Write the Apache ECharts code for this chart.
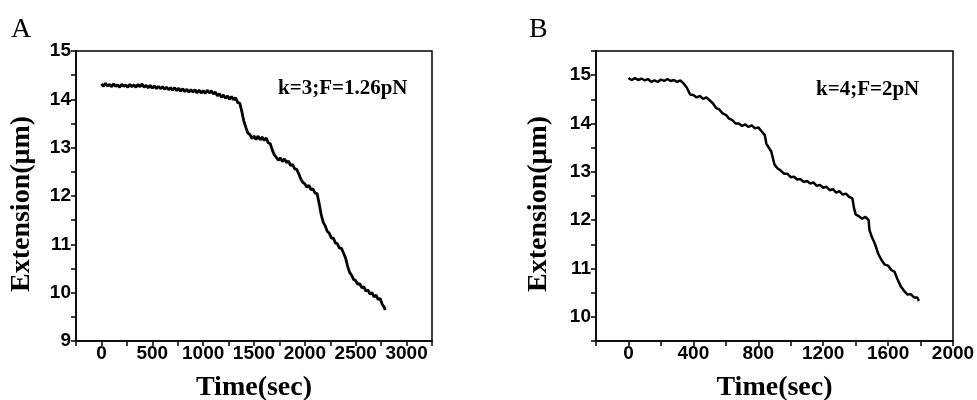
<!DOCTYPE html>
<html>
<head>
<meta charset="utf-8">
<script src="https://cdn.jsdelivr.net/npm/echarts@6/dist/echarts.min.js"></script>
<style>html,body{margin:0;padding:0;background:#fff;}#c{width:977px;height:400px;}</style>
</head>
<body>
<div id="c"></div>
<script>
// Panel A: time (sec) and extension (µm)
const timeA = [0,20,40,60,80,100,120,140,160,180,200,220,240,260,280,300,320,340,360,380,400,420,440,460,480,500,520,540,560,580,600,620,640,660,680,700,720,740,760,780,800,820,840,860,880,900,920,940,960,980,1000,1020,1040,1060,1080,1100,1120,1140,1160,1180,1200,1220,1240,1260,1280,1300,1320,1340,1360,1380,1400,1420,1440,1460,1480,1500,1520,1540,1560,1580,1600,1620,1640,1660,1680,1700,1720,1740,1760,1780,1800,1820,1840,1860,1880,1900,1920,1940,1960,1980,2000,2020,2040,2060,2080,2100,2120,2140,2160,2180,2200,2220,2240,2260,2280,2300,2320,2340,2360,2380,2400,2420,2440,2460,2480,2500,2520,2540,2560,2580,2600,2620,2640,2660,2680,2700,2720,2740,2760,2780,2790];
const extA = [14.32,14.27,14.33,14.28,14.31,14.26,14.32,14.27,14.30,14.25,14.31,14.27,14.30,14.25,14.31,14.26,14.30,14.25,14.31,14.26,14.32,14.25,14.29,14.24,14.29,14.23,14.28,14.22,14.27,14.22,14.26,14.21,14.25,14.20,14.24,14.19,14.24,14.18,14.23,14.17,14.22,14.16,14.21,14.15,14.20,14.15,14.20,14.13,14.19,14.13,14.18,14.12,14.19,14.13,14.18,14.11,14.15,14.07,14.12,14.04,14.09,14.02,14.07,14.00,14.06,13.99,14.03,13.93,13.92,13.75,13.55,13.42,13.30,13.27,13.19,13.24,13.17,13.24,13.16,13.22,13.15,13.20,13.10,13.08,12.95,12.85,12.80,12.74,12.79,12.71,12.77,12.69,12.72,12.63,12.65,12.56,12.55,12.46,12.35,12.28,12.25,12.18,12.22,12.13,12.15,12.06,12.05,11.85,11.62,11.46,11.38,11.27,11.23,11.13,11.13,11.03,11.01,10.92,10.92,10.82,10.72,10.55,10.42,10.36,10.27,10.25,10.17,10.19,10.10,10.12,10.03,10.06,9.97,10.00,9.91,9.95,9.86,9.88,9.76,9.70,9.64];

// Panel B
const timeB = [0,20,40,60,80,100,120,140,160,180,200,220,240,260,280,300,320,340,360,380,400,420,440,460,480,500,520,540,560,580,600,620,640,660,680,700,720,740,760,780,800,820,840,850,860,880,900,920,940,960,980,1000,1020,1040,1060,1080,1100,1120,1140,1160,1180,1200,1220,1240,1260,1280,1300,1320,1340,1360,1380,1390,1400,1420,1440,1460,1480,1485,1500,1520,1540,1560,1580,1600,1620,1640,1660,1680,1700,1720,1740,1760,1780,1790];
const extB = [14.94,14.90,14.94,14.90,14.93,14.89,14.92,14.86,14.89,14.86,14.91,14.88,14.92,14.88,14.90,14.86,14.89,14.83,14.74,14.60,14.59,14.54,14.57,14.51,14.54,14.48,14.42,14.32,14.29,14.21,14.18,14.10,14.07,14.00,14.00,13.95,13.98,13.93,13.96,13.90,13.92,13.84,13.76,13.58,13.55,13.42,13.15,13.07,13.02,12.96,12.96,12.89,12.90,12.84,12.85,12.79,12.81,12.76,12.78,12.71,12.73,12.67,12.69,12.62,12.64,12.57,12.60,12.53,12.55,12.48,12.45,12.25,12.12,12.08,12.03,12.07,12.00,11.80,11.65,11.50,11.30,11.17,11.08,11.06,10.97,10.93,10.76,10.62,10.53,10.46,10.47,10.40,10.40,10.33];

const panelLetters = ['A', 'B'];
const noteA = 'k=3;F=1.26pN';
const noteB = 'k=4;F=2pN';
const xTitle = 'Time(sec)';
const yTitle = 'Extension(μm)';

const pairs = (xs, ys) => xs.map((x, i) => [x, ys[i]]);

const tickFont = {fontFamily: 'Liberation Sans', fontWeight: 'bold', fontSize: 19, color: '#000'};
const nameFont = {fontFamily: 'Liberation Serif', fontWeight: 'bold', fontSize: 28, color: '#000'};
const axisLine = {show: true, onZero: false, lineStyle: {color: '#000', width: 1.5}};
const axisTick = {show: true, inside: false, length: 5, lineStyle: {color: '#000', width: 1.5}};

function xAx(idx, min, max, step, labStep) {
  return {
    type: 'value', gridIndex: idx, min: min, max: max, interval: step,
    name: xTitle, nameLocation: 'middle', nameGap: 33, nameTextStyle: nameFont,
    axisLine: axisLine, axisTick: axisTick, splitLine: {show: false},
    axisLabel: Object.assign({margin: 3, showMinLabel: true, showMaxLabel: true,
      formatter: v => (v >= 0 && v % labStep === 0) ? String(v) : ''}, tickFont)
  };
}
function yAx(idx, min, max, nameGap) {
  return {
    type: 'value', gridIndex: idx, min: min, max: max, interval: 0.5,
    name: yTitle, nameLocation: 'middle', nameGap: nameGap,
    nameTextStyle: Object.assign({padding: [0, 16, 0, 0]}, nameFont),
    axisLine: axisLine, axisTick: axisTick, splitLine: {show: false},
    axisLabel: Object.assign({margin: 5, showMinLabel: true, showMaxLabel: true,
      formatter: v => (Math.abs(v - Math.round(v)) < 1e-6) ? String(Math.round(v)) : ''}, tickFont)
  };
}

const chart = echarts.init(document.getElementById('c'), null, {renderer: 'canvas'});
chart.setOption({
  animation: false,
  backgroundColor: '#fff',
  grid: [
    {left: 76, right: 545, top: 51, bottom: 59, containLabel: false, outerBoundsMode: 'none', show: true, borderColor: '#000', borderWidth: 1.5, backgroundColor: 'transparent'},
    {left: 596, right: 24, top: 51, bottom: 59, containLabel: false, outerBoundsMode: 'none', show: true, borderColor: '#000', borderWidth: 1.5, backgroundColor: 'transparent'}
  ],
  xAxis: [xAx(0, -250, 3250, 250, 500), xAx(1, -200, 2000, 200, 400)],
  yAxis: [yAx(0, 9, 15, 40), yAx(1, 9.5, 15.5, 43)],
  series: [
    {type: 'line', xAxisIndex: 0, yAxisIndex: 0, data: pairs(timeA, extA), showSymbol: false,
     lineStyle: {color: '#000', width: 2.8}, itemStyle: {color: '#000'}},
    {type: 'line', xAxisIndex: 1, yAxisIndex: 1, data: pairs(timeB, extB), showSymbol: false,
     lineStyle: {color: '#000', width: 2.5}, itemStyle: {color: '#000'}}
  ],
  graphic: [
    {type: 'text', left: 11, top: 16, style: {text: panelLetters[0], font: '28px "Liberation Serif"', fill: '#000'}},
    {type: 'text', left: 529, top: 16, style: {text: panelLetters[1], font: '28px "Liberation Serif"', fill: '#000'}},
    {type: 'text', left: 278, top: 78, style: {text: noteA, font: 'bold 21px "Liberation Serif"', fill: '#000'}},
    {type: 'text', left: 816, top: 79, style: {text: noteB, font: 'bold 21px "Liberation Serif"', fill: '#000'}}
  ]
});
</script>
</body>
</html>
